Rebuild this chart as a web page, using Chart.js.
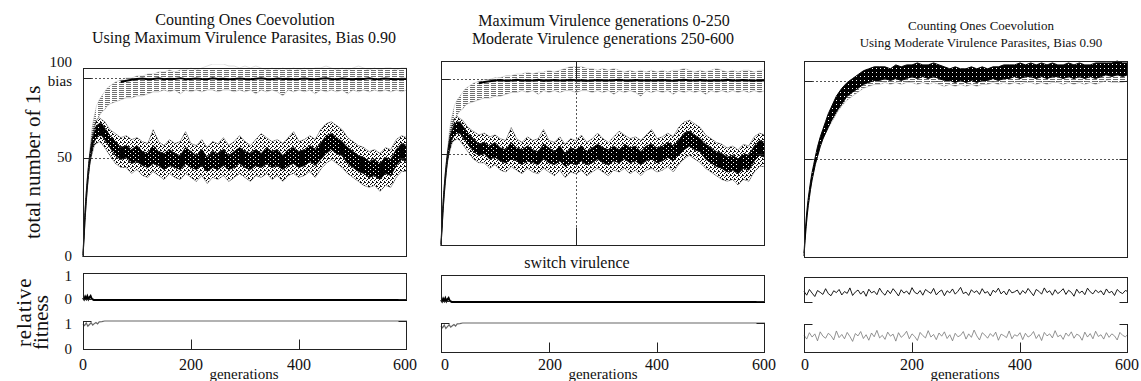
<!DOCTYPE html>
<html><head><meta charset="utf-8">
<script src="https://cdn.jsdelivr.net/npm/chart.js@4.4.1/dist/chart.umd.min.js"></script>
<style>
html,body{margin:0;padding:0;background:#fff;}
body{width:1141px;height:381px;overflow:hidden;position:relative;font-family:"Liberation Serif","DejaVu Serif",serif;color:#111;}
.t{position:absolute;white-space:nowrap;line-height:1;transform:translate(-50%,-50%);}
.r{position:absolute;white-space:nowrap;line-height:1;transform:translate(-100%,-50%);}
.rot{position:absolute;white-space:nowrap;line-height:1;transform-origin:0 0;transform:rotate(-90deg);}
canvas{position:absolute;}
</style></head><body>
<div class="t" style="left:245px;top:20px;font-size:16px">Counting Ones Coevolution</div>
<div class="t" style="left:244px;top:38px;font-size:16px">Using Maximum Virulence Parasites, Bias 0.90</div>
<div class="t" style="left:604px;top:21px;font-size:16px">Maximum Virulence generations 0-250</div>
<div class="t" style="left:603px;top:39px;font-size:16px">Moderate Virulence generations 250-600</div>
<div class="t" style="left:981px;top:25px;font-size:13px">Counting Ones Coevolution</div>
<div class="t" style="left:981px;top:42px;font-size:13px">Using Moderate Virulence Parasites, Bias 0.90</div>

<div class="rot" style="left:23px;top:239px;font-size:21px">total number of 1s</div>
<div class="rot" style="left:14px;top:347px;font-size:21px;letter-spacing:0.8px">relative</div>
<div class="rot" style="left:31px;top:350px;font-size:21px">fitness</div>

<div class="r" style="left:72px;top:62px;font-size:15px">100</div>
<div class="r" style="left:72px;top:81px;font-size:15px">bias</div>
<div class="r" style="left:72px;top:157px;font-size:15px">50</div>
<div class="r" style="left:72px;top:256px;font-size:15px">0</div>
<div class="r" style="left:72px;top:276px;font-size:15px">1</div>
<div class="r" style="left:72px;top:299px;font-size:15px">0</div>
<div class="r" style="left:72px;top:324px;font-size:15px">1</div>
<div class="r" style="left:72px;top:349px;font-size:15px">0</div>

<div class="t" style="left:83px;top:365px;font-size:16px">0</div>
<div class="t" style="left:191px;top:365px;font-size:16px">200</div>
<div class="t" style="left:299px;top:365px;font-size:16px">400</div>
<div class="t" style="left:405px;top:365px;font-size:16px">600</div>
<div class="t" style="left:244px;top:374px;font-size:15px">generations</div>

<div class="t" style="left:445px;top:365px;font-size:16px">0</div>
<div class="t" style="left:550px;top:365px;font-size:16px">200</div>
<div class="t" style="left:657px;top:365px;font-size:16px">400</div>
<div class="t" style="left:764px;top:365px;font-size:16px">600</div>
<div class="t" style="left:603px;top:374px;font-size:15px">generations</div>
<div class="t" style="left:577px;top:263px;font-size:16px">switch virulence</div>

<div class="t" style="left:805px;top:365px;font-size:16px">0</div>
<div class="t" style="left:912px;top:365px;font-size:16px">200</div>
<div class="t" style="left:1020px;top:365px;font-size:16px">400</div>
<div class="t" style="left:1127px;top:365px;font-size:16px">600</div>
<div class="t" style="left:965px;top:374px;font-size:15px">generations</div>

<script>
// ---------- data ----------
const gens = [0,2,4,6,8,10,12,15,18,21,25,30,35,40,45,50,60,70,80,90,100,110,120,130,140,150,160,170,180,190,200,210,220,230,240,250,260,270,280,290,300,310,320,330,340,350,360,370,380,390,400,410,420,430,440,450,460,470,480,490,500,510,520,530,540,550,560,570,580,590,600];

// maximum-virulence run (left panel, also middle panel)
const lowCoreLo = [0,10,20,28,35,41,46,51,55,58,60,61,61,59,57,55, 51,49,50,47,48,46,45,47,46,44,46,45,44,47,45,44,46,43,45,44,46,44,45,47,45,44,46,45,47,45,46,44,46,47,45,46,48,46,49,52,54,52,51,47,45,43,42,40,41,39,42,41,46,49,48];
const lowCoreHi = [1,13,24,32,39,45,50,56,60,63,66,67,67,65,63,61, 58,55,56,54,56,53,52,56,53,52,54,52,51,55,53,51,54,50,53,52,54,51,53,55,53,52,54,52,55,53,54,51,54,55,53,54,56,54,57,61,62,60,58,55,53,51,50,48,49,47,50,49,54,57,56];
const lowFrLo = [0,9,19,27,34,40,45,50,53,56,57,58,57,55,53,51, 47,45,45,42,44,41,40,43,41,39,42,40,39,42,40,38,41,37,40,39,41,38,40,42,40,38,41,40,42,39,41,38,41,42,40,41,43,40,44,47,49,47,45,42,40,38,36,35,36,33,36,35,40,43,43];
const lowFrHi = [2,14,25,33,40,46,51,58,62,66,69,70,69,68,66,64, 62,60,61,59,60,58,57,64,58,56,59,57,58,63,57,56,59,55,58,57,60,56,58,61,58,56,59,62,60,58,59,57,60,63,58,59,61,59,64,67,68,66,64,60,58,56,55,53,54,52,55,54,59,61,60];
const upLo = [0,10,20,28,35,41,46,54,60,64,68,71,73,74,76,77, 78,79,80,80,81,81,82,83,83,84,83,84,82,84,83,84,83,84,84,83,84,84,83,84,83,84,82,84,83,84,83,81,84,83,84,83,84,82,84,83,84,83,84,82,84,83,84,83,84,83,84,83,84,83,84];
const upHi = [1,13,24,32,39,45,51,61,67,71,76,79,81,83,85,86, 88,89,90,90,91,91,92,92,93,93,94,93,94,94,95,94,95,96,97,97,97,96,96,95,96,95,96,95,94,95,94,95,94,95,94,95,94,95,95,96,95,94,95,94,95,96,95,94,95,94,95,95,94,95,95];
const upMode = [null,null,null,null,null,null,null,null,null,null,null,null,null,null,null,null,null, 88,88.6,89.1,89.5,89.7,89.3,89.5,89.8,89.4,89.6,89.5,89.9,89.3,89.5,89.7,89.5,89.4,89.8,89.5,89.6,89.3,89.5,89.7,89.5,89.4,89.6,89.8,89.5,89.3,89.7,89.5,89.6,89.4,89.5,89.7,89.5,89.3,89.6,89.8,89.5,89.4,89.7,89.5,89.3,89.6,89.5,89.8,89.4,89.5,89.7,89.5,89.3,89.6,89.5];

// moderate-virulence run (right panel)
const rLo = [0,8,15,21,26,30,34,39,43,47,51,56,60,63,66,69, 74,78,82,84,86,88,89,90,90,91,90,91,90,91,92,91,92,91,92,91,90,90,89,90,89,90,89,90,90,91,90,91,91,92,91,92,92,91,92,91,92,92,91,92,91,92,91,92,91,92,93,92,93,92,93];
const rHi = [1.5,11,19,25,30,34,38,43,47,51,56,61,65,69,73,76, 82,86,89,91,93,95,96,97,97,97,96,98,97,98,98,99,98,98,99,98,97,96,97,96,96,97,96,97,96,97,97,98,98,98,99,98,99,98,99,98,99,98,98,99,98,99,98,98,99,99,99,99,100,99,99];
const rGrayLo = [0,8,15,21,26,30,34,39,43,47,51,56,60,63,66,68, 73,77,80,82,84,86,87,88,88,89,88,89,88,89,89,88,89,88,89,88,87,88,87,88,87,88,87,88,88,89,88,89,88,89,88,89,89,88,89,88,89,89,88,89,88,89,88,89,88,89,90,89,89,89,90];

// relative fitness, maximum virulence
const fitGensA = [0,2,4,6,8,10,12,14,16,18,20,25,600];
const fitA1 = [0.08,0.02,0.12,0.04,0.14,0.03,0.1,0.15,0.05,0.02,0,0,0];
const fitGensB = [0,3,6,9,12,15,18,21,24,27,30,35,40,600];
const fitA2 = [0.9,0.84,0.93,0.82,0.88,0.94,0.86,0.91,0.95,0.9,0.97,0.98,1,1];

// relative fitness, moderate virulence
const fitGensR = [0,5,10,15,20,25,30,35,40,45,50,55,60,65,70,75,80,85,90,95,100,105,110,115,120,125,130,135,140,145,150,155,160,165,170,175,180,185,190,195,200,205,210,215,220,225,230,235,240,245,250,255,260,265,270,275,280,285,290,295,300,305,310,315,320,325,330,335,340,345,350,355,360,365,370,375,380,385,390,395,400,405,410,415,420,425,430,435,440,445,450,455,460,465,470,475,480,485,490,495,500,505,510,515,520,525,530,535,540,545,550,555,560,565,570,575,580,585,590,595,600];
const rFit1 = [0.45,0.30,0.52,0.38,0.25,0.48,0.41,0.33,0.55,0.36,
0.28,0.47,0.40,0.52,0.31,0.44,0.37,0.58,0.29,0.42,
0.50,0.34,0.46,0.26,0.53,0.39,0.45,0.32,0.57,0.40,
0.30,0.49,0.36,0.55,0.42,0.27,0.51,0.38,0.46,0.33,
0.59,0.41,0.35,0.48,0.30,0.52,0.44,0.37,0.56,0.31,
0.43,0.50,0.28,0.47,0.39,0.54,0.34,0.45,0.60,0.36,
0.42,0.29,0.51,0.40,0.47,0.33,0.55,0.38,0.44,0.27,
0.49,0.41,0.57,0.35,0.46,0.31,0.53,0.39,0.43,0.50,
0.32,0.48,0.37,0.56,0.42,0.28,0.52,0.45,0.34,0.58,
0.40,0.47,0.30,0.51,0.36,0.44,0.55,0.33,0.49,0.41,
0.26,0.53,0.38,0.46,0.32,0.57,0.43,0.35,0.50,0.40,
0.47,0.31,0.54,0.39,0.45,0.29,0.52,0.42,0.36,0.48,0.44];
const rFit2 = [0.62,0.48,0.70,0.55,0.66,0.42,0.73,0.58,0.51,0.68,
0.60,0.45,0.76,0.53,0.64,0.49,0.71,0.57,0.40,0.67,
0.59,0.74,0.50,0.63,0.44,0.69,0.56,0.78,0.52,0.61,
0.47,0.72,0.58,0.65,0.41,0.70,0.54,0.62,0.75,0.49,
0.66,0.57,0.43,0.71,0.60,0.52,0.77,0.55,0.64,0.46,
0.69,0.58,0.73,0.50,0.63,0.42,0.68,0.56,0.61,0.74,
0.48,0.66,0.54,0.79,0.59,0.45,0.70,0.62,0.51,0.67,
0.57,0.72,0.44,0.65,0.60,0.53,0.76,0.49,0.63,0.58,
0.70,0.46,0.68,0.55,0.61,0.74,0.50,0.64,0.43,0.71,
0.59,0.66,0.52,0.77,0.56,0.62,0.47,0.69,0.58,0.73,
0.51,0.65,0.60,0.44,0.72,0.55,0.67,0.49,0.75,0.57,
0.63,0.48,0.70,0.54,0.66,0.59,0.45,0.71,0.61,0.56,0.64];

// ---------- styling helpers ----------
function makePattern(w,h,draw){const c=document.createElement('canvas');c.width=w;c.height=h;const x=c.getContext('2d');draw(x);return x.createPattern(c,'repeat');}
const grayDash = makePattern(7,2,x=>{x.fillStyle='#6f6f6f';x.fillRect(0,0,5,1);});
const coreTex = makePattern(5,4,x=>{x.fillStyle='#000';x.fillRect(0,0,5,4);x.clearRect(1,1,1,1);x.clearRect(3,3,1,1);});
const speckle = makePattern(4,4,x=>{x.fillStyle='#111';[[0,0],[2,1],[1,2],[3,3],[3,0]].forEach(p=>x.fillRect(p[0],p[1],1,1));});
const solidBlack = makePattern(4,4,x=>{x.fillStyle='#000';x.fillRect(0,0,4,4);x.clearRect(2,1,1,1);});

function pts(xs,ys){return xs.map((g,i)=>({x:g,y:ys[i]}));}
function ds(xs,ys,o){return Object.assign({data:pts(xs,ys),borderWidth:0.8,borderColor:'#000',pointRadius:0,fill:false,tension:0,spanGaps:false,clip:4},o||{});}

function deco(cfg){
  return {id:'deco',
    beforeDatasetsDraw(chart){
      const {ctx,chartArea:a,scales:{x,y}}=chart;
      ctx.save();ctx.strokeStyle='#555';ctx.lineWidth=1;ctx.setLineDash([2,2]);
      (cfg.h||[]).forEach(v=>{const py=Math.round(y.getPixelForValue(v))+0.5;ctx.beginPath();ctx.moveTo(a.left,py);ctx.lineTo(a.right,py);ctx.stroke();});
      (cfg.v||[]).forEach(v=>{const px=Math.round(x.getPixelForValue(v))+0.5;ctx.beginPath();ctx.moveTo(px,a.top);ctx.lineTo(px,a.bottom);ctx.stroke();});
      ctx.restore();
    },
    afterDatasetsDraw(chart){
      const {ctx,chartArea:a,scales:{x,y}}=chart;
      const L=Math.round(a.left)+0.5,R=Math.round(a.right)-0.5,T=Math.round(a.top)+0.5,B=Math.round(a.bottom)-0.5;
      ctx.save();ctx.strokeStyle='#222';ctx.lineWidth=1;ctx.setLineDash([]);
      const seg=(x1,y1,x2,y2)=>{ctx.beginPath();ctx.moveTo(x1,y1);ctx.lineTo(x2,y2);ctx.stroke();};
      const f=cfg.frame;
      if(f.includes('t'))seg(L-0.5,T,R+0.5,T);
      if(f.includes('b'))seg(L-0.5,B,R+0.5,B);
      if(f.includes('l'))seg(L,T-0.5,L,B+0.5);
      if(f.includes('r'))seg(R,T-0.5,R,B+0.5);
      (cfg.ys||[]).forEach(v=>{let py=Math.round(y.getPixelForValue(v))+0.5;py=Math.min(Math.max(py,T),B);seg(L,py,L+8,py);seg(R-8,py,R,py);});
      (cfg.vs||[]).forEach(v=>{const px=Math.round(x.getPixelForValue(v))+0.5;seg(px,T,px,T+18);seg(px,B-18,px,B);});
      (cfg.xt||[]).forEach(v=>{const px=Math.round(x.getPixelForValue(v))+0.5;seg(px,B-10,px,B);});
      ctx.restore();
    }};
}

const P=6;
function panel(box,ymin,ymax,datasets,cfg){
  const c=document.createElement('canvas');
  const w=box.r-box.l+1,h=box.b-box.t+1;
  c.width=w+2*P;c.height=h+2*P;
  c.style.left=(box.l-P)+'px';c.style.top=(box.t-P)+'px';
  c.style.width=c.width+'px';c.style.height=c.height+'px';
  document.body.appendChild(c);
  new Chart(c,{type:'line',data:{datasets},
    options:{responsive:false,animation:false,devicePixelRatio:1,
      layout:{padding:P},
      plugins:{legend:{display:false},tooltip:{enabled:false},title:{display:false}},
      scales:{x:{type:'linear',min:0,max:600,display:false},y:{type:'linear',min:ymin,max:ymax,display:false}}},
    plugins:[deco(cfg)]});
}

function maxVirSets(){
  return [
    ds(gens,upMode,{borderWidth:2,borderColor:'#000'}),
    ds(gens,lowCoreLo,{borderColor:'#111',borderWidth:1}),
    ds(gens,lowCoreHi,{borderColor:'#111',borderWidth:1,fill:'-1',backgroundColor:coreTex}),
    ds(gens,lowFrLo,{borderColor:'rgba(0,0,0,0.45)',borderWidth:0.8}),
    ds(gens,lowFrHi,{borderColor:'rgba(0,0,0,0.45)',borderWidth:0.8,fill:'-1',backgroundColor:speckle}),
    ds(gens,upLo,{borderColor:'rgba(120,120,120,0.55)',borderWidth:0.7}),
    ds(gens,upHi,{borderColor:'rgba(140,140,140,0.4)',borderWidth:0.7,fill:'-1',backgroundColor:grayDash})
  ];
}

// main panels
panel({l:83,r:406,t:68,b:256},0,95,maxVirSets(),{frame:'tblr',h:[50,90],ys:[50,90]});
panel({l:441,r:764,t:61,b:245},0,100,maxVirSets(),{frame:'tblr',h:[50,90],v:[250],ys:[50,90],vs:[250]});
panel({l:804,r:1127,t:61,b:257},-1,100,[
  ds(gens,rLo,{borderColor:'#000',borderWidth:1}),
  ds(gens,rHi,{borderColor:'#000',borderWidth:1,fill:'-1',backgroundColor:solidBlack}),
  ds(gens,rGrayLo,{borderColor:'rgba(130,130,130,0.6)',borderWidth:0.6,fill:0,backgroundColor:grayDash})
],{frame:'tblr',h:[50,90],ys:[50,90]});

// fitness panels
const topBoxes=[{l:83,r:406,t:273,b:299},{l:441,r:764,t:275,b:301},{l:804,r:1127,t:277,b:302}];
const botBoxes=[{l:83,r:406,t:321,b:349},{l:441,r:764,t:323,b:352},{l:804,r:1127,t:324,b:352}];
[0,1].forEach(i=>{
  panel(topBoxes[i],0,1,[ds(fitGensA,fitA1,{borderColor:'#000',borderWidth:2})],{frame:'tlr',ys:[0]});
  panel(botBoxes[i],0,1,[ds(fitGensB,fitA2,{borderColor:'#666',borderWidth:1.2})],{frame:'blr',ys:[1],xt:[200,400]});
});
panel(topBoxes[2],0,1,[ds(fitGensR,rFit1,{borderColor:'#000',borderWidth:0.9})],{frame:'tlr',ys:[0]});
panel(botBoxes[2],0,1,[ds(fitGensR,rFit2,{borderColor:'#777',borderWidth:0.8})],{frame:'blr',ys:[1],xt:[200,400]});
</script>
</body></html>
